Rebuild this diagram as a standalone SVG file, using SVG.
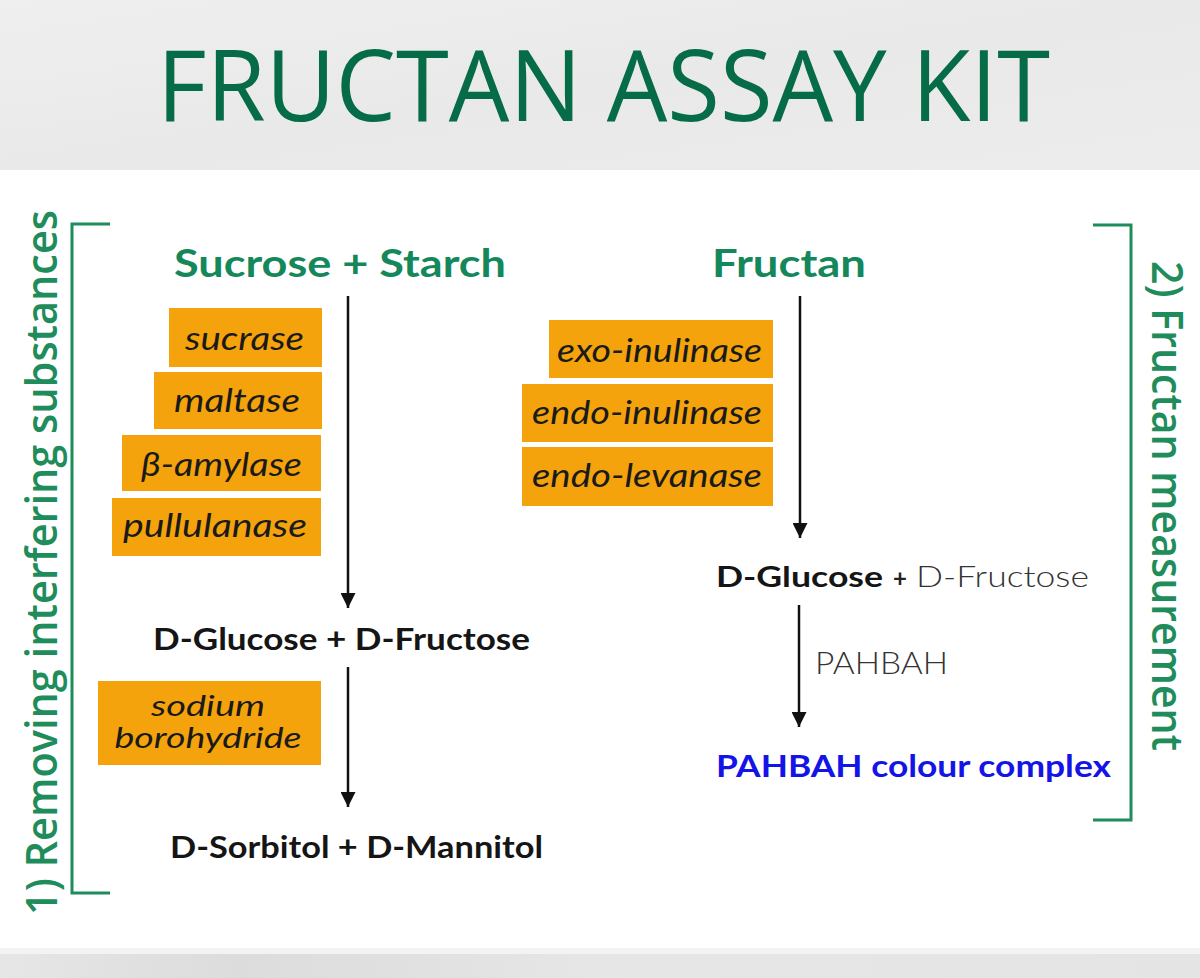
<svg xmlns="http://www.w3.org/2000/svg" width="1200" height="978" viewBox="0 0 1200 978">
<style>
.enz{fill:#f4a30d}
.et{font-family:Lato,"Open Sans",sans-serif;font-style:italic;font-size:33px;fill:#1a1a1a}
.et2{font-family:Lato,"Open Sans",sans-serif;font-style:italic;font-size:29px;fill:#1a1a1a}
.head{font-family:Lato,"Open Sans",sans-serif;font-weight:700;font-size:39px;fill:#14875b}
.prod{font-family:Lato,"Open Sans",sans-serif;font-weight:700;font-size:31px;fill:#151515}
.side{font-family:"Open Sans","Noto Sans",sans-serif;font-size:44px;font-weight:600;fill:#1f8c5c}
.br{fill:none;stroke:#1f8c5c;stroke-width:3}
.arr{stroke:#111;stroke-width:2.5;fill:none;marker-end:url(#ah)}
</style>
<defs>
<linearGradient id="topbg" x1="0" y1="0" x2="1" y2="1">
<stop offset="0" stop-color="#efefef"/><stop offset="0.5" stop-color="#e9e9e9"/><stop offset="1" stop-color="#ececec"/>
</linearGradient>
<linearGradient id="botbg" x1="0" y1="0" x2="1" y2="0">
<stop offset="0" stop-color="#e6e6e6"/><stop offset="0.2" stop-color="#dcdcdc"/><stop offset="0.5" stop-color="#e6e6e6"/><stop offset="1" stop-color="#e4e4e4"/>
</linearGradient>
<marker id="ah" viewBox="0 0 10 10" refX="10" refY="5" markerWidth="22" markerHeight="15" markerUnits="userSpaceOnUse" orient="auto">
<path d="M0,0 L10,5 L0,10 z" fill="#111"/>
</marker>
</defs>

<rect x="0" y="0" width="1200" height="170" fill="url(#topbg)"/>
<rect x="0" y="170" width="1200" height="778" fill="#ffffff"/>
<rect x="0" y="948" width="1200" height="6" fill="#f3f3f3"/>
<rect x="0" y="954" width="1200" height="24" fill="url(#botbg)"/>

<g id="title">
<text x="157" y="121" font-family="'Open Sans',sans-serif" font-size="98" fill="#066c47" textLength="893" lengthAdjust="spacingAndGlyphs">FRUCTAN ASSAY KIT</text>
</g>

<g id="bracket-left">
<path class="br" d="M110,224 H72 V893 H110"/>
<text class="side" transform="translate(57,915) rotate(-90)" textLength="705" lengthAdjust="spacingAndGlyphs">1) Removing interfering substances</text>
</g>

<g id="bracket-right">
<path class="br" d="M1093,225 H1131 V820 H1093"/>
<text class="side" transform="translate(1152,261) rotate(90)" textLength="490" lengthAdjust="spacingAndGlyphs">2) Fructan measurement</text>
</g>

<g id="sucrose-starch">
<text class="head" x="174" y="277" textLength="332" lengthAdjust="spacingAndGlyphs">Sucrose + Starch</text>
</g>

<g id="fructan">
<text class="head" x="712" y="277" textLength="154" lengthAdjust="spacingAndGlyphs">Fructan</text>
</g>

<g id="enz-sucrase">
<rect class="enz" x="169" y="308" width="153" height="59"/>
<text class="et" x="304" y="350" text-anchor="end" textLength="119" lengthAdjust="spacingAndGlyphs">sucrase</text>
</g>
<g id="enz-maltase">
<rect class="enz" x="154" y="372" width="168" height="57"/>
<text class="et" x="300" y="412" text-anchor="end" textLength="126" lengthAdjust="spacingAndGlyphs">maltase</text>
</g>
<g id="enz-beta-amylase">
<rect class="enz" x="122" y="435" width="199" height="56"/>
<text class="et" x="302" y="476" text-anchor="end" textLength="161" lengthAdjust="spacingAndGlyphs">β-amylase</text>
</g>
<g id="enz-pullulanase">
<rect class="enz" x="112" y="498" width="209" height="58"/>
<text class="et" x="307" y="537" text-anchor="end" textLength="184" lengthAdjust="spacingAndGlyphs">pullulanase</text>
</g>

<g id="enz-exo-inulinase">
<rect class="enz" x="549" y="320" width="224" height="58"/>
<text class="et" x="762" y="362" text-anchor="end" textLength="205" lengthAdjust="spacingAndGlyphs">exo-inulinase</text>
</g>
<g id="enz-endo-inulinase">
<rect class="enz" x="522" y="384" width="251" height="58"/>
<text class="et" x="762" y="424" text-anchor="end" textLength="230" lengthAdjust="spacingAndGlyphs">endo-inulinase</text>
</g>
<g id="enz-endo-levanase">
<rect class="enz" x="522" y="447" width="251" height="59"/>
<text class="et" x="762" y="487" text-anchor="end" textLength="230" lengthAdjust="spacingAndGlyphs">endo-levanase</text>
</g>

<g id="glucose-fructose-left">
<text class="prod" x="153" y="650" textLength="377" lengthAdjust="spacingAndGlyphs">D-Glucose + D-Fructose</text>
</g>

<g id="sodium-borohydride">
<rect class="enz" x="98" y="681" width="223" height="84"/>
<text class="et2" x="208" y="716" text-anchor="middle" textLength="114" lengthAdjust="spacingAndGlyphs">sodium</text>
<text class="et2" x="208" y="748" text-anchor="middle" textLength="187" lengthAdjust="spacingAndGlyphs">borohydride</text>
</g>

<g id="sorbitol-mannitol">
<text class="prod" x="170" y="858" textLength="373" lengthAdjust="spacingAndGlyphs">D-Sorbitol + D-Mannitol</text>
</g>

<g id="glucose-fructose-right">
<text x="716" y="587" font-family="Lato,'Open Sans',sans-serif" font-size="29" font-weight="700" fill="#151515" textLength="167" lengthAdjust="spacingAndGlyphs">D-Glucose</text>
<text x="893" y="587" font-family="Lato,'Open Sans',sans-serif" font-size="24" font-weight="700" fill="#222">+</text>
<text x="916" y="587" font-family="Lato,'Open Sans',sans-serif" font-size="29" font-weight="300" fill="#333" textLength="173" lengthAdjust="spacingAndGlyphs">D-Fructose</text>
</g>

<g id="pahbah-label">
<text x="815" y="674" font-family="Lato,'Open Sans',sans-serif" font-size="32" font-weight="300" fill="#333" textLength="133" lengthAdjust="spacingAndGlyphs">PAHBAH</text>
</g>

<g id="pahbah-complex">
<text x="716" y="777" font-family="Lato,'Open Sans',sans-serif" font-size="31" font-weight="700" fill="#1414e6" textLength="395" lengthAdjust="spacingAndGlyphs">PAHBAH colour complex</text>
</g>

<g id="connectors">
<line class="arr" x1="348" y1="296" x2="348" y2="608"/>
<line class="arr" x1="348" y1="667" x2="348" y2="807"/>
<line class="arr" x1="800" y1="296" x2="800" y2="538"/>
<line class="arr" x1="799" y1="605" x2="799" y2="727"/>
</g>
</svg>
